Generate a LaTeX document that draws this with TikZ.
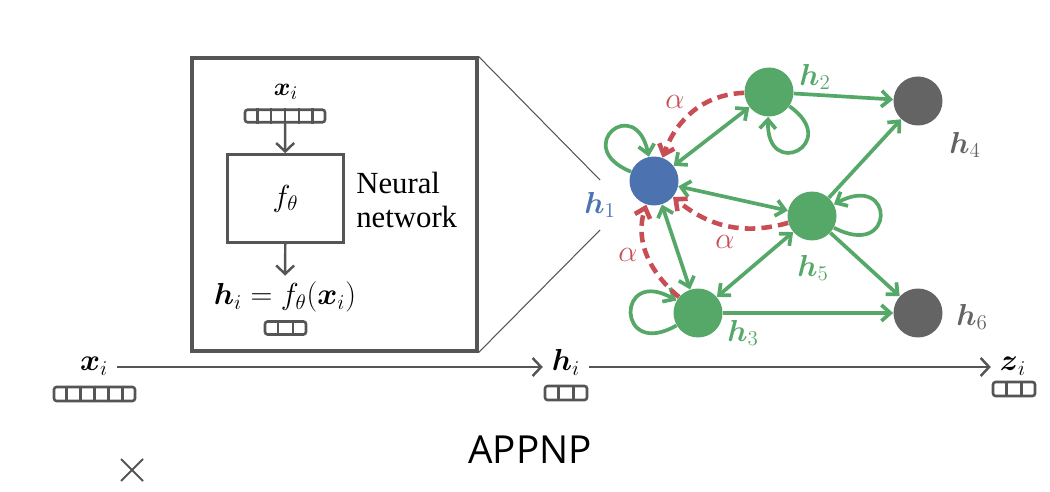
\documentclass[tikz,border=0pt]{standalone}
\usepackage{amsmath,amssymb}
\usepackage{fontspec}
\newfontfamily\netfont{Liberation Serif}
\newfontfamily\titlefont{Open Sans}
\usepackage{tikz}
\usetikzlibrary{arrows,arrows.meta}
\usetikzlibrary{calc}
\definecolor{gcol}{RGB}{85,168,104}
\definecolor{bcol}{RGB}{76,114,176}
\definecolor{rcol}{RGB}{200,78,86}
\definecolor{kcol}{RGB}{100,100,100}
\definecolor{dcol}{RGB}{85,85,85}
\tikzstyle{lab} = [inner sep=5pt, text height=0.7em, text depth=0.25em]
\tikzstyle{vec} = [rectangle, draw=dcol, line width=1.5pt, rounded corners=1.5pt, minimum height=2.8mm, inner sep=0pt]
\tikzstyle{frame} = [rectangle, draw=dcol, line width=1.8pt, inner sep=0pt]
\tikzstyle{arr} = [draw=dcol, line width=1.4pt, -{Straight Barb[length=1.7mm,width=3.6mm]}]
\tikzstyle{zoomline} = [draw=dcol, line width=0.6pt]
\tikzstyle{bv} = [circle, fill=bcol, minimum size=9.8mm, inner sep=0pt]
\tikzstyle{gv} = [circle, fill=gcol, minimum size=9.8mm, inner sep=0pt]
\tikzstyle{kv} = [circle, fill=kcol, minimum size=9.8mm, inner sep=0pt]
\tikzstyle{ge} = [draw=gcol, line width=2.1pt]
\tikzstyle{re} = [draw=rcol, line width=2.6pt, dash pattern=on 6pt off 3.5pt]
\tikzset{>={Straight Barb[length=1.8mm,width=3.2mm]}}

\begin{document}
\begin{tikzpicture}[x=0.02cm,y=0.02cm,font=\fontsize{17}{20}\selectfont]
		\useasboundingbox (0,0) rectangle (1050,-492);
		% network inset
		\node[frame, minimum width=57mm, minimum height=58.6mm] (inset) at (334.5,-204.5) {};
		\coordinate (z1) at (600,-180);
		\coordinate (z2) at (600,-230);
		\draw[zoomline] (inset.north east) -- (z1);
		\draw[zoomline] (inset.south east) -- (z2);
		\node[lab, font=\fontsize{15}{17}\selectfont] (xin) at (286,-92) {$\boldsymbol{x}_i$};
		\node[vec, minimum width=16mm, minimum height=2.5mm] (xinvec) at (285,-116) {};
		\node[frame, line width=1.5pt, minimum width=23.2mm, minimum height=17.6mm, font=\fontsize{18}{21}\selectfont] (f) at (285.5,-198.5) {$f_\theta$};
		\node[anchor=west, align=left, inner sep=0pt, font=\netfont\fontsize{17.5}{19.5}\selectfont] (nn) at (356,-200) {Neural\\network};
		\node[font=\fontsize{18}{21}\selectfont] (hin) at (285,-297) {$\boldsymbol{h}_i = f_\theta(\boldsymbol{x}_i)$};
		\node[vec, minimum width=8.2mm, minimum height=2.6mm] (hinvec) at (285.5,-328) {};
		\draw[arr] (xinvec) -- (f);
		\draw[arr] (f) -- (hin);
		% main line
		\node[lab] (xi) at (94,-367) {$\boldsymbol{x}_i$};
		\node[vec, minimum width=16.2mm] (xvec) at (94.5,-394) {};
		\node[lab] (hi) at (566,-367) {$\boldsymbol{h}_i$};
		\node[vec, minimum width=8.4mm] (hvec) at (566,-393) {};
		\node[lab] (zi) at (1013,-367) {$\boldsymbol{z}_i$};
		\node[vec, minimum width=8.4mm] (zvec) at (1014,-389) {};
		\draw[arr] (xi) -- (hi);
		\draw[arr] (hi) -- (zi);
		\foreach \v/\n in {xinvec/6,hinvec/3,xvec/6,hvec/3,zvec/3}
		{
			\pgfmathtruncatemacro\m{\n-1}
			\foreach \k in {1,...,\m}
			\draw[dcol, line width=1.4pt] ($(\v.south west)!\k/\n!(\v.south east)$) -- ($(\v.north west)!\k/\n!(\v.north east)$);
		}
		% graph
		\node[bv] (h1) at (654,-181) {};
		\node[gv] (h2) at (769,-92) {};
		\node[kv] (h4) at (918,-101) {};
		\node[gv] (h5) at (812,-216) {};
		\node[gv] (h3) at (698,-313) {};
		\node[kv] (h6) at (918,-313) {};
		\node[text=bcol] (l1) at (600,-205) {$\boldsymbol{h}_1$};
		\node[text=gcol] (l2) at (815,-77) {$\boldsymbol{h}_2$};
		\node[text=gcol] (l3) at (743,-333) {$\boldsymbol{h}_3$};
		\node[text=kcol] (l4) at (965,-145) {$\boldsymbol{h}_4$};
		\node[text=gcol] (l5) at (813,-268) {$\boldsymbol{h}_5$};
		\node[text=kcol] (l6) at (972,-317) {$\boldsymbol{h}_6$};
		\foreach \from/\to in {h2/h4,h5/h4,h5/h6,h3/h6}
		\draw[ge,->] (\from) -- (\to);
		\foreach \from/\to in {h1/h2,h1/h5,h1/h3,h3/h5}
		\draw[ge,<->] (\from) -- (\to);
		\draw[ge,->] (h1) to[out=158,in=102,distance=13mm] (h1);
		\draw[ge,->] (h2) to[out=-35,in=-92,distance=13mm] (h2);
		\draw[ge,->] (h5) to[out=-28,in=28,distance=14mm] (h5);
		\draw[ge,->] (h3) to[out=210,in=150,distance=14mm] (h3);
		\draw[re,->] (h2) to[out=182,in=70] (h1);
		\draw[re,->] (h5) to[out=196,in=-40] (h1);
		\draw[re,->] (h3) to[out=140,in=252] (h1);
		\node[text=rcol] (a1) at (675,-102) {$\alpha$};
		\node[text=rcol] (a2) at (725,-242) {$\alpha$};
		\node[text=rcol] (a3) at (628,-255) {$\alpha$};
		% caption
		\coordinate (c1) at (121,-459);
		\coordinate (c2) at (143,-481);
		\coordinate (c3) at (143,-459);
		\coordinate (c4) at (121,-481);
		\draw[dcol, line width=1.1pt] (c1) -- (c2) (c3) -- (c4);
		\node[font=\titlefont\fontsize{22}{26}\selectfont] (title) at (530,-450) {APPNP};
	\end{tikzpicture}
\end{document}
